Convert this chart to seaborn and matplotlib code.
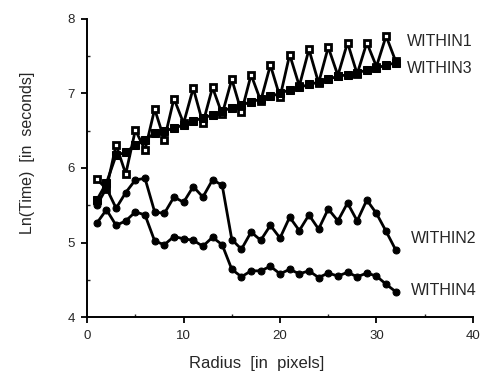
import numpy as np
import pandas as pd
import matplotlib
matplotlib.use("Agg")
import matplotlib.pyplot as plt
import seaborn as sns
from matplotlib.ticker import MultipleLocator

radius = list(range(1, 33))

within1 = [5.85, 5.72, 6.31, 5.92, 6.51, 6.24, 6.79, 6.38, 6.93, 6.60, 7.07, 6.60,
           7.08, 6.72, 7.19, 6.75, 7.25, 6.90, 7.38, 6.95, 7.52, 7.10, 7.59, 7.14,
           7.62, 7.24, 7.68, 7.26, 7.68, 7.36, 7.77, 7.43]
within3 = [5.57, 5.80, 6.17, 6.21, 6.31, 6.37, 6.47, 6.50, 6.53, 6.58, 6.63, 6.67,
           6.71, 6.76, 6.81, 6.84, 6.89, 6.92, 6.96, 7.00, 7.05, 7.08, 7.12, 7.15,
           7.19, 7.23, 7.25, 7.28, 7.31, 7.34, 7.38, 7.41]
within2 = [5.50, 5.73, 5.46, 5.67, 5.84, 5.86, 5.41, 5.39, 5.61, 5.54, 5.75, 5.61,
           5.84, 5.77, 5.04, 4.91, 5.14, 5.03, 5.23, 5.06, 5.34, 5.16, 5.37, 5.18,
           5.45, 5.29, 5.53, 5.29, 5.57, 5.39, 5.15, 4.90]
within4 = [5.26, 5.44, 5.23, 5.29, 5.41, 5.37, 5.02, 4.97, 5.08, 5.05, 5.03, 4.95,
           5.07, 4.97, 4.64, 4.54, 4.62, 4.62, 4.68, 4.58, 4.64, 4.58, 4.62, 4.53,
           4.59, 4.55, 4.60, 4.54, 4.59, 4.55, 4.44, 4.34]

series_names = ["WITHIN1", "WITHIN3", "WITHIN2", "WITHIN4"]

sns.set_style("ticks")
plt.rcParams["font.family"] = ["Liberation Sans", "DejaVu Sans"]

fig = plt.figure(figsize=(4.87, 3.77), dpi=100)
ax = fig.add_axes([0.179, 0.159, 0.792, 0.791])

# open squares: thick black border, small white centre
sns.lineplot(x=radius, y=within1, ax=ax, color="black", lw=2, marker="s",
             markersize=4.5, markerfacecolor="white", markeredgecolor="black",
             markeredgewidth=2)
sns.lineplot(x=radius, y=within3, ax=ax, color="black", lw=2, marker="s",
             markersize=5.5, markerfacecolor="black", markeredgecolor="black")
sns.lineplot(x=radius, y=within2, ax=ax, color="black", lw=2, marker="o",
             markersize=5, markerfacecolor="black", markeredgecolor="black")
sns.lineplot(x=radius, y=within4, ax=ax, color="black", lw=2, marker="o",
             markersize=5, markerfacecolor="black", markeredgecolor="black")

label_x = [33.2, 33.2, 33.6, 33.6]
label_y = [7.69, 7.34, 5.05, 4.36]
for name, lx, ly in zip(series_names, label_x, label_y):
    ax.text(lx, ly, name, fontsize=11.5, va="center", ha="left")

ax.set_xlim(0, 40)
ax.set_ylim(4, 8)
ax.xaxis.set_major_locator(MultipleLocator(10))
ax.xaxis.set_minor_locator(MultipleLocator(5))
ax.yaxis.set_major_locator(MultipleLocator(1))
ax.yaxis.set_minor_locator(MultipleLocator(0.5))
ax.tick_params(which="major", direction="out", length=4, width=1.3,
               labelsize=9.5, color="black", pad=5)
ax.tick_params(which="minor", direction="in", length=2, width=1)
sns.despine(ax=ax)
for s in ["left", "bottom"]:
    ax.spines[s].set_linewidth(1.4)
    ax.spines[s].set_color("black")

ax.set_xlabel("Radius  [in  pixels]", fontsize=12)
ax.set_ylabel("Ln(Time)  [in  seconds]", fontsize=11.5)
ax.xaxis.set_label_coords(0.44, -0.13)
ax.yaxis.set_label_coords(-0.135, 0.55)

fig.savefig("out.png", dpi=100)
